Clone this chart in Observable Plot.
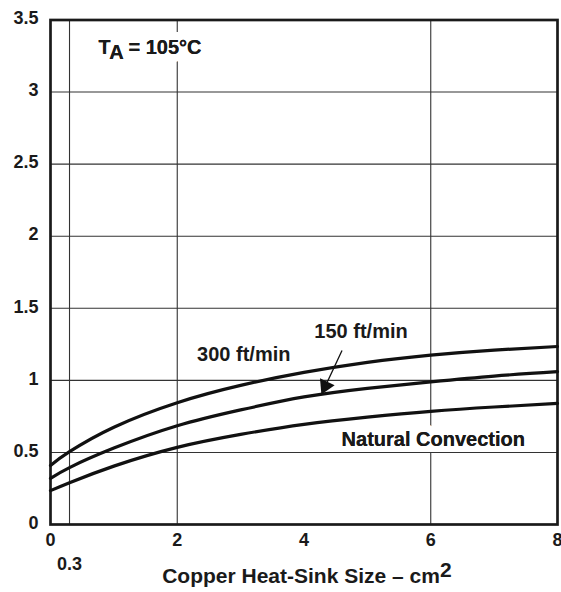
<!DOCTYPE html>
<html><head><meta charset="utf-8">
<script src="https://cdn.jsdelivr.net/npm/d3@7"></script>
<script src="https://cdn.jsdelivr.net/npm/@observablehq/plot@0.6"></script>
<style>
html,body{margin:0;padding:0;background:#fff;overflow:hidden}
svg{font-family:"Liberation Sans",Arial,Helvetica,sans-serif;font-weight:bold}
</style>
</head><body><div id="chart"></div>
<script>
// Copper heat-sink size (cm²)
const sizes   = [0, 0.3, 1, 2, 3, 4, 5, 6, 7, 8];
// Power dissipation curves (W)
const air300  = [0.41, 0.505, 0.675, 0.845, 0.965, 1.055, 1.125, 1.175, 1.21, 1.235];
const air150  = [0.32, 0.395, 0.53, 0.685, 0.795, 0.885, 0.945, 0.99, 1.03, 1.06];
const natural = [0.235, 0.29, 0.405, 0.535, 0.625, 0.695, 0.745, 0.785, 0.815, 0.84];

const xTicks = [0, 2, 4, 6, 8];
const xExtraTicks = [0.3];
const yTicks = [0, 0.5, 1, 1.5, 2, 2.5, 3, 3.5];
const xGrid = [0.3, 2, 6];
const yGrid = [0.5, 1, 1.5, 2, 2.5, 3];

const curveLabels = [
  {text: "300 ft/min", x: 3.05, y: 1.181},
  {text: "150 ft/min", x: 4.9, y: 1.339}
];
const centerHaloLabels = [{text: "Natural Convection", x: 6.04, y: 0.591}];
const startHaloLabels = [{text: "TA = 105°C", x: 0.757, y: 3.307}];
const xTitle = [{text: "Copper Heat-Sink Size – cm2", x: 1.762}];
const arrow = [{x1: 4.6, y1: 1.207, x2: 4.275, y2: 0.902}];

const series = [
  {name: "300 ft/min", values: air300},
  {name: "150 ft/min", values: air150},
  {name: "Natural Convection", values: natural}
];
const rows = series.flatMap(s => sizes.map((x, i) => ({series: s.name, x, y: s.values[i]})));

const ink = "#1a1a1a";
const labelOpts = {x: "x", y: "y", text: "text", fontSize: 20, fontWeight: "bold", fill: ink, lineAnchor: "middle"};

const chart = Plot.plot({
  width: 561,
  height: 592,
  marginLeft: 50,
  marginRight: 4,
  marginTop: 19.5,
  marginBottom: 68,
  style: {fontSize: "18px", fontWeight: "bold", color: ink, background: "#fff"},
  x: {domain: [0, 8]},
  y: {domain: [0, 3.5]},
  marks: [
    Plot.ruleX(xGrid, {stroke: "#333", strokeWidth: 1.1}),
    Plot.text(centerHaloLabels, {...labelOpts, textAnchor: "middle", stroke: "white", strokeWidth: 16}),
    Plot.text(startHaloLabels, {...labelOpts, textAnchor: "start", stroke: "white", strokeWidth: 16}),
    Plot.ruleY(yGrid, {stroke: "#333", strokeWidth: 1.1}),
    Plot.frame({stroke: ink, strokeWidth: 2.7}),
    Plot.line(rows, {x: "x", y: "y", z: "series", curve: "natural", stroke: "#111", strokeWidth: 3.2}),
    Plot.link(arrow, {x1: "x1", y1: "y1", x2: "x2", y2: "y2", stroke: "#111", strokeWidth: 1.3}),
    Plot.dot(arrow, {x: "x2", y: "y2", symbol: "triangle", r: 6, fill: "#111", stroke: "none", rotate: 205, dx: 3.9, dy: -8.5}),
    Plot.text(centerHaloLabels, {...labelOpts, textAnchor: "middle"}),
    Plot.text(startHaloLabels, {...labelOpts, textAnchor: "start"}),
    Plot.text(curveLabels, {...labelOpts, textAnchor: "middle"}),
    Plot.axisY({ticks: yTicks, tickSize: 0, tickPadding: 12, dy: -1.5, fontSize: 18, fontWeight: "bold", tickFormat: d => String(d)}),
    Plot.axisX({ticks: xTicks, tickSize: 0, tickPadding: 9, fontSize: 18, fontWeight: "bold", tickFormat: d => String(d)}),
    Plot.axisX({ticks: xExtraTicks, tickSize: 0, tickPadding: 33, fontSize: 18, fontWeight: "bold", tickFormat: d => String(d)}),
    Plot.text(xTitle, {x: "x", frameAnchor: "bottom", dy: 51.3, text: "text", textAnchor: "start", fontSize: 21, fontWeight: "bold", fill: ink, lineAnchor: "middle"})
  ]
});

document.getElementById("chart").appendChild(chart);

// Subscript / superscript details
d3.select(chart).selectAll("text").each(function() {
  const t = this.textContent;
  if (t === "TA = 105°C") {
    const el = d3.select(this).text("");
    el.append("tspan").text("T");
    el.append("tspan").attr("dy", 5).text("A");
    el.append("tspan").attr("dy", -5).text(" = 105°C");
  } else if (t === "Copper Heat-Sink Size – cm2") {
    const el = d3.select(this).text("");
    el.append("tspan").text("Copper Heat-Sink Size – cm");
    el.append("tspan").attr("dy", -6).text("2");
  }
});
</script>
</body></html>
